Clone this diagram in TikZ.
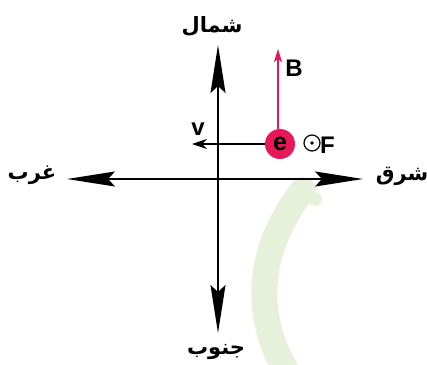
\documentclass[tikz,border=0pt]{standalone}
\usepackage{fontspec}
\setmainfont{Liberation Sans}
\newfontfamily\arabicfont[Script=Arabic]{DejaVu Sans}
\TeXXeTstate=1
\usetikzlibrary{arrows.meta}
\definecolor{crim}{HTML}{E8175A}
\definecolor{wmgreen}{HTML}{E7F0DA}
\tikzset{
  axis/.style={line width=1.9pt, {Stealth[length=48pt,width=15pt,inset=7pt]}-{Stealth[length=48pt,width=15pt,inset=7pt]}},
  ar/.style={font=\arabicfont\bfseries\fontsize{21}{24}\selectfont, inner sep=0pt},
  lab/.style={font=\bfseries\fontsize{24}{26}\selectfont, inner sep=0pt},
}
\begin{document}
\begin{tikzpicture}[x=1pt,y=-1pt]
\useasboundingbox (0,0) rectangle (427,364);
% watermark band
\draw[wmgreen, line width=26pt, line cap=round] (303,190) .. controls (255,252) and (252,320) .. (292,380);
\fill[wmgreen] (315,199) circle (7);
% axes
\coordinate (N) at (218,45);
\coordinate (S) at (218,333);
\coordinate (W) at (67,179);
\coordinate (E) at (363,179);
\draw[axis] (S) -- (N);
\draw[axis] (W) -- (E);
\node[ar] (north) at (212,26) {\beginR شمال\endR};
\node[ar] (south) at (216,352) {\beginR جنوب\endR};
\node[ar] (west) at (32,175) {\beginR غرب\endR};
\node[ar] (east) at (402,176) {\beginR شرق\endR};
% electron
\node[circle, fill=crim, minimum size=30pt, inner sep=0pt, font=\bfseries\fontsize{25}{26}\selectfont] (e) at (280,144) {\raisebox{1pt}{e}};
\coordinate (vt) at (192,144);
\draw[line width=1.6pt, -{Stealth[length=15pt,width=10pt,inset=5pt]}] (e.west) -- (vt);
\node[lab] (v) at (198,129) {v};
\coordinate (Bt) at (278,49);
\draw[crim, line width=2pt, -{Stealth[length=13pt,width=8pt,inset=3pt]}] (e.north -| Bt) -- (Bt);
\node[lab] (B) at (294,68) {B};
% force out of page
\node[circle, draw, line width=1.2pt, minimum size=16pt, inner sep=0pt] (Fc) at (312,143) {};
\fill (Fc.center) circle (1.8);
\node[lab, anchor=west] (F) at (320,145) {F};
\end{tikzpicture}
\end{document}
